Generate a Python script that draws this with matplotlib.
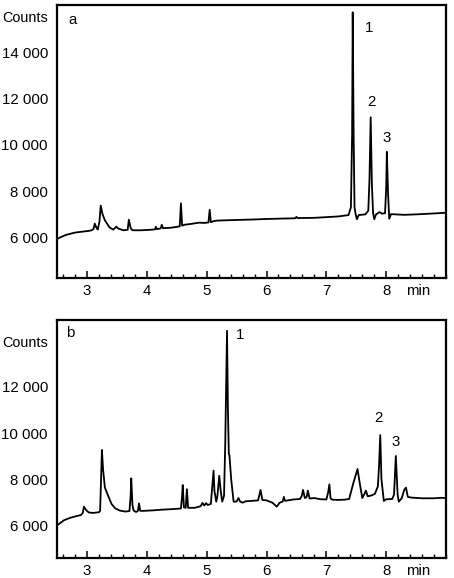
import numpy as np
import matplotlib
matplotlib.use("Agg")
import matplotlib.pyplot as plt
from matplotlib.ticker import MultipleLocator, FixedLocator, FuncFormatter

plt.rcParams["font.family"] = ["Liberation Sans", "DejaVu Sans"]
FS = 10.8

# %% data (time in min, detector counts)
time_a = [2.50, 2.55, 2.65, 2.80, 2.95, 3.02, 3.08, 3.11, 3.13, 3.16, 3.18, 3.21, 3.23,
          3.26, 3.30, 3.38, 3.44, 3.47, 3.49, 3.52, 3.61, 3.68, 3.70, 3.73, 3.76,
          3.90, 4.05, 4.14, 4.15, 4.17, 4.23, 4.25, 4.27, 4.40, 4.48, 4.55, 4.57,
          4.59, 4.63, 4.75, 4.87, 4.97, 5.03, 5.05, 5.07, 5.12, 5.18, 5.40, 5.80,
          6.00, 6.30, 6.48, 6.50, 6.52, 6.80, 7.00, 7.20, 7.37, 7.41, 7.43, 7.44,
          7.455, 7.47, 7.49, 7.51, 7.54, 7.65, 7.70, 7.72, 7.74, 7.76, 7.78,
          7.80, 7.83, 7.89, 7.93, 7.98, 8.00, 8.01, 8.03, 8.05, 8.08, 8.30,
          8.50, 8.80, 9.00]
counts_a = [5920, 5990, 6100, 6200, 6250, 6270, 6300, 6360, 6590, 6400, 6330, 6700, 7370,
            7000, 6730, 6415, 6330, 6400, 6460, 6380, 6300, 6320, 6760, 6400, 6300,
            6300, 6320, 6340, 6450, 6350, 6380, 6540, 6390, 6410, 6440, 6470, 7470,
            6500, 6540, 6580, 6630, 6620, 6640, 7190, 6650, 6700, 6720, 6740, 6770,
            6790, 6810, 6820, 6880, 6830, 6840, 6870, 6900, 6960, 7300, 10500, 15750,
            10500, 7300, 6980, 6780, 6960, 6990, 7150, 8500, 11200, 8300, 7050,
            6780, 6990, 7090, 7020, 7040, 8200, 9700, 7900, 6800, 7000, 6970,
            6990, 7030, 7060]

time_b = [2.50, 2.55, 2.62, 2.72, 2.82, 2.90, 2.93, 2.95, 2.98, 3.03, 3.10, 3.20, 3.22,
          3.24, 3.25, 3.27, 3.30, 3.36, 3.41, 3.47, 3.55, 3.64, 3.71, 3.73, 3.74,
          3.76, 3.78, 3.82, 3.85, 3.87, 3.89, 3.95, 4.10, 4.25, 4.40, 4.57, 4.59,
          4.60, 4.62, 4.65, 4.67, 4.69, 4.80, 4.90, 4.93, 4.96, 4.99, 5.02, 5.07,
          5.09, 5.115, 5.13, 5.16, 5.18, 5.21, 5.235, 5.26, 5.29, 5.31, 5.34, 5.355,
          5.37, 5.38, 5.41, 5.45, 5.50, 5.53, 5.56, 5.60, 5.65, 5.75, 5.86, 5.90,
          5.93, 6.00, 6.10, 6.17, 6.22, 6.27, 6.29, 6.31, 6.45, 6.56, 6.59, 6.61,
          6.64, 6.67, 6.69, 6.72, 6.80, 6.90, 7.00, 7.03, 7.05, 7.07, 7.10, 7.20,
          7.30, 7.38, 7.45, 7.52, 7.56, 7.60, 7.63, 7.66, 7.69, 7.74, 7.81, 7.86,
          7.88, 7.90, 7.92, 7.96, 8.00, 8.10, 8.13, 8.16, 8.19, 8.21, 8.26, 8.30,
          8.33, 8.36, 8.42, 8.60, 8.80, 8.90, 9.00]
counts_b = [6020, 6120, 6250, 6350, 6420, 6470, 6560, 6830, 6700, 6580, 6560, 6590, 6650,
            8300, 9270, 8400, 7650, 7260, 6950, 6760, 6660, 6620, 6640, 7300, 8050,
            6900, 6660, 6600, 6640, 6970, 6650, 6650, 6670, 6700, 6720, 6750, 7300,
            7760, 6800, 6780, 7580, 6780, 6780, 6850, 6990, 6880, 6980, 6900, 6950,
            7600, 8380, 7500, 7045, 7300, 8160, 7500, 7045, 7300, 9500, 14400, 11000,
            9100, 9050, 8000, 7045, 7050, 7200, 7050, 7000, 7060, 7080, 7100, 7550,
            7120, 7100, 7000, 6830, 7000, 7050, 7250, 7080, 7140, 7160, 7300, 7550,
            7200, 7240, 7520, 7180, 7200, 7150, 7140, 7450, 7790, 7180, 7130, 7120,
            7130, 7160, 7840, 8450, 7800, 7200, 7350, 7520, 7280, 7300, 7380, 7700,
            8600, 9910, 8000, 7075, 7150, 7160, 7350, 9010, 7350, 7045, 7200, 7550,
            7650, 7250, 7220, 7190, 7190, 7210, 7200]

xticks = [3, 4, 5, 6, 7, 8]
yticks_a = [6000, 8000, 10000, 12000, 14000]
yticks_b = [6000, 8000, 10000, 12000]
peak_labels = ["1", "2", "3"]
peak_pos_a = [(7.71, 15050), (7.76, 11870), (8.01, 10280)]
peak_pos_b = [(5.56, 14240), (7.87, 10660), (8.15, 9630)]


def thousands(v, pos):
    return f"{v:,.0f}".replace(",", " ")


def style_axis(ax, yticks, ylim):
    ax.set_xlim(2.5, 9.0)
    ax.set_ylim(*ylim)
    for sp in ax.spines.values():
        sp.set_linewidth(1.6)
    ax.xaxis.set_major_locator(FixedLocator(xticks))
    ax.xaxis.set_minor_locator(MultipleLocator(0.2))
    ax.tick_params(axis="x", which="major", direction="in", length=5, width=1.1,
                   labelsize=FS, pad=4)
    ax.tick_params(axis="x", which="minor", direction="in", length=3.2, width=1.0)
    ax.set_yticks(yticks)
    ax.yaxis.set_major_formatter(FuncFormatter(thousands))
    ax.tick_params(axis="y", length=0, labelsize=FS, pad=6.5)
    ax.annotate("min", xy=(8.53, 0), xycoords=("data", "axes fraction"),
                xytext=(0, -4), textcoords="offset points",
                ha="center", va="top", fontsize=FS)


fig = plt.figure(figsize=(4.54, 5.78), dpi=100)
ax_a = fig.add_axes([0.1256, 0.519, 0.857, 0.472])
ax_b = fig.add_axes([0.1256, 0.0346, 0.857, 0.412])

ax_a.plot(time_a, counts_a, color="black", lw=1.3)
ax_b.plot(time_b, counts_b, color="black", lw=1.3)

style_axis(ax_a, yticks_a, (4230, 16060))
style_axis(ax_b, yticks_b, (4620, 14870))

for lab, (t, c) in zip(peak_labels, peak_pos_a):
    ax_a.text(t, c, lab, ha="center", va="center", fontsize=FS)
for lab, (t, c) in zip(peak_labels, peak_pos_b):
    ax_b.text(t, c, lab, ha="center", va="center", fontsize=FS)

ax_a.text(0.041, 0.945, "a", transform=ax_a.transAxes, ha="center", va="center", fontsize=FS)
ax_b.text(0.033, 0.945, "b", transform=ax_b.transAxes, ha="center", va="center", fontsize=FS)

fig.text(0.106, 0.969, "Counts", ha="right", va="center", fontsize=10.4)
fig.text(0.106, 0.4066, "Counts", ha="right", va="center", fontsize=10.4)

fig.savefig("out.png", dpi=100)
